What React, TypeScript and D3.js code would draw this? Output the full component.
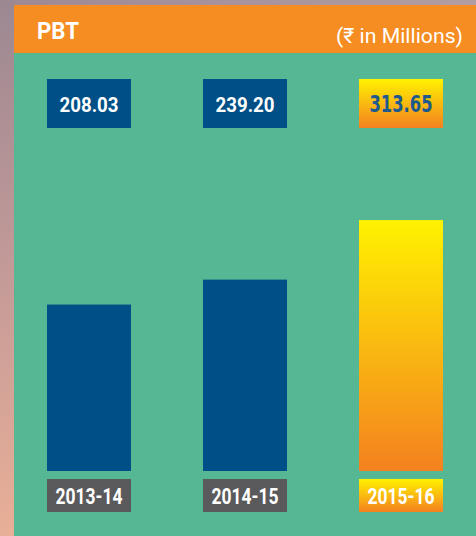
import React from 'react';
import * as d3 from 'd3';

// chart data
const years = ['2013-14', '2014-15', '2015-16'];
const pbt = [208.03, 239.2, 313.65];
const valueLabels = ['208.03', '239.20', '313.65'];

const W = 476;
const H = 536;

const App: React.FC = () => {
  // x bands span the green panel, y from 0 at the bar base
  const x = d3.scaleBand<string>()
    .domain(years)
    .range([14, W])
    .paddingInner(0.4615)
    .paddingOuter(0.2115);

  const y = d3.scaleLinear().domain([0, 400]).range([471, 151]);

  const isLast = (i: number) => i === years.length - 1;

  return (
    <svg width={W} height={H} style={{ position: 'absolute', left: 0, top: 0, display: 'block' }}>
      <defs>
        <linearGradient id="side" x1="0" y1="0" x2="0" y2="1">
          <stop offset="0%" stopColor="#9c8892" />
          <stop offset="50%" stopColor="#c39a98" />
          <stop offset="100%" stopColor="#e9af97" />
        </linearGradient>
        <linearGradient id="topStrip" x1="0" y1="0" x2="1" y2="0">
          <stop offset="0%" stopColor="#a08993" />
          <stop offset="100%" stopColor="#b39ca3" />
        </linearGradient>
        <linearGradient id="gold" x1="0" y1="0" x2="0" y2="1">
          <stop offset="0%" stopColor="#fff200" />
          <stop offset="100%" stopColor="#f48120" />
        </linearGradient>
      </defs>

      {/* backdrop */}
      <rect x={0} y={0} width={W} height={H} fill="url(#side)" />
      <rect x={14} y={0} width={W - 14} height={6} fill="url(#topStrip)" />
      <rect x={14} y={53} width={W - 14} height={H - 53} fill="#55b794" />

      {/* header */}
      <rect x={14} y={5} width={W - 14} height={48} fill="#f68d22" />
      <text x={37} y={39} fill="#fff" fontFamily="Roboto, 'Noto Sans', sans-serif" fontWeight={700} fontSize={23}
        textLength={42} lengthAdjust="spacingAndGlyphs">
        PBT
      </text>
      <text x={463} y={43} textAnchor="end" fill="#fff" fontFamily="Roboto, 'Noto Sans', 'DejaVu Sans', sans-serif" fontSize={21}
        textLength={127} lengthAdjust="spacingAndGlyphs">
        (₹ in Millions)
      </text>

      {years.map((yr, i) => {
        const bx = x(yr) ?? 0;
        const bw = x.bandwidth();
        const fill = isLast(i) ? 'url(#gold)' : '#004f86';
        return (
          <g key={yr}>
            {/* value box */}
            <rect x={bx} y={79} width={bw} height={49} fill={fill} />
            <text
              x={bx + bw / 2}
              y={112}
              textAnchor="middle"
              fill={isLast(i) ? '#1f5a8c' : '#fff'}
              fontFamily={isLast(i) ? "'DejaVu Sans Condensed', 'DejaVu Sans', sans-serif" : "Roboto, sans-serif"}
              fontWeight={700}
              fontSize={isLast(i) ? 23 : 21}
              textLength={isLast(i) ? 63 : 59}
              lengthAdjust="spacingAndGlyphs"
            >
              {valueLabels[i]}
            </text>

            {/* bar */}
            <rect x={bx} y={y(pbt[i])} width={bw} height={y(0) - y(pbt[i])} fill={fill} />

            {/* category label */}
            <rect x={bx} y={479} width={bw} height={33} fill={isLast(i) ? 'url(#gold)' : '#5a5a5c'} />
            <text
              x={bx + bw / 2}
              y={504}
              textAnchor="middle"
              fill="#fff"
              fontFamily="Roboto, sans-serif"
              fontWeight={700}
              fontSize={22}
              textLength={67}
              lengthAdjust="spacingAndGlyphs"
            >
              {yr}
            </text>
          </g>
        );
      })}
    </svg>
  );
};

export default App;
